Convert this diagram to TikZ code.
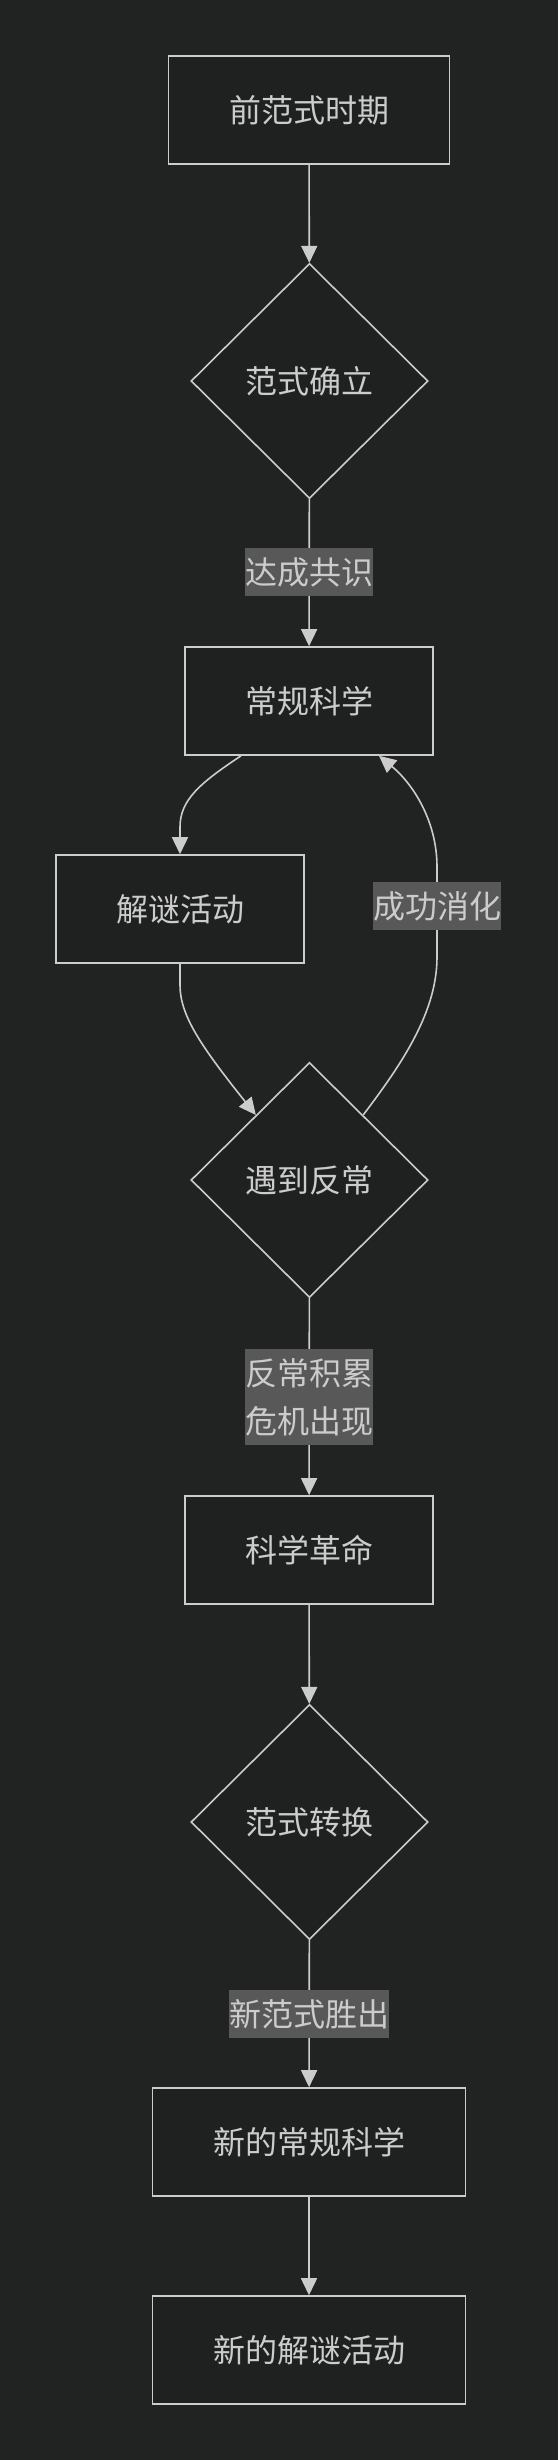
\documentclass[tikz,border=0pt]{standalone}
\usepackage{fontspec}
\setmainfont{Noto Sans CJK SC}
\usetikzlibrary{shapes.geometric,arrows.meta,calc}
\definecolor{bgcol}{HTML}{212222}
\definecolor{nodefill}{HTML}{1F2020}
\definecolor{strokecol}{HTML}{CCCCCC}
\definecolor{txtcol}{HTML}{CCCCCC}
\definecolor{lblfill}{HTML}{585858}
\tikzset{
  txtfont/.style={font=\fontsize{32pt}{48pt}\selectfont},
  box/.style={draw=strokecol, fill=nodefill, line width=1.6pt, minimum height=108pt, inner sep=0pt, text=txtcol, txtfont},
  dia/.style={diamond, draw=strokecol, fill=nodefill, line width=1.6pt, minimum width=237pt, minimum height=235pt, inner sep=0pt, text=txtcol, txtfont},
  lbl/.style={fill=lblfill, inner xsep=0pt, inner ysep=8pt, minimum height=48pt, text=txtcol, txtfont, align=center},
  edge/.style={draw=strokecol, line width=1.6pt, -{Triangle[length=17pt,width=16pt]}},
}
\begin{document}
\begin{tikzpicture}
\useasboundingbox (0pt,0pt) rectangle (558pt,-2460pt);
\fill[bgcol] (0pt,0pt) rectangle (558pt,-2460pt);

\node[box, minimum width=281pt] (A) at (309pt,-110pt) {前范式时期};
\node[dia] (B) at (309.5pt,-381pt) {范式确立};
\node[box, minimum width=248pt] (C) at (309pt,-701pt) {常规科学};
\node[box, minimum width=248pt] (D) at (180pt,-909pt) {解谜活动};
\node[dia] (E) at (309.5pt,-1180pt) {遇到反常};
\node[box, minimum width=248pt] (F) at (309pt,-1550pt) {科学革命};
\node[dia] (G) at (309.5pt,-1822pt) {范式转换};
\node[box, minimum width=313pt] (H) at (309pt,-2142pt) {新的常规科学};
\node[box, minimum width=313pt] (I) at (309pt,-2350pt) {新的解谜活动};

\coordinate (Eul) at ($(E.north)!0.45!(E.west)$);
\coordinate (Eur) at ($(E.north)!0.45!(E.east)$);
\coordinate (Cl) at ([xshift=-68pt]C.south);
\coordinate (Cr) at ([xshift=70pt]C.south);
\coordinate (Lk) at (437pt,-906pt);

\draw[edge] (A) -- (B);
\draw[edge] (B) -- (C);
\draw[edge] (Cl) .. controls (200pt,-783pt) and (180pt,-800pt) .. (180pt,-827pt) -- (D.north);
\draw[edge] (D.south) -- (180pt,-985pt) .. controls (180pt,-1015pt) and (200pt,-1045pt) .. (Eul);
\draw[edge] (Eur) .. controls (405pt,-1060pt) and (437pt,-1010pt) .. (437pt,-957pt) -- (Lk) -- (437pt,-867pt) .. controls (437pt,-820pt) and (412pt,-783pt) .. (Cr);
\draw[edge] (E) -- (F);
\draw[edge] (F) -- (G);
\draw[edge] (G) -- (H);
\draw[edge] (H) -- (I);

\node[lbl] (L1) at (309pt,-572pt) {达成共识};
\node[lbl] (L2) at (Lk) {成功消化};
\node[lbl, minimum height=96pt] (L3) at (309pt,-1397pt) {反常积累\\危机出现};
\node[lbl] (L4) at (309pt,-2014pt) {新范式胜出};
\end{tikzpicture}
\end{document}
